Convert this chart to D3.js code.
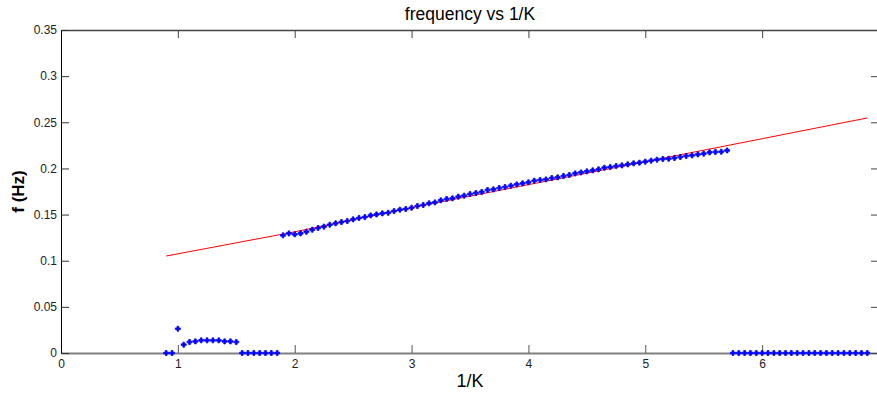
<!DOCTYPE html>
<html>
<head>
<meta charset="utf-8">
<script src="https://cdn.jsdelivr.net/npm/d3@7"></script>
<style>
    body { margin: 0; background: #fff; }
    svg { display: block; font-family: "Liberation Sans", Arial, sans-serif; }
</style>
</head>
<body>
<svg id="chart" width="877" height="396"></svg>
<script>
// measured samples (1/K, f)
const lowX = [0.9, 0.95, 1.0, 1.05, 1.1, 1.15, 1.2, 1.25, 1.3, 1.35, 1.4, 1.45, 1.5,
    1.55, 1.6, 1.65, 1.7, 1.75, 1.8, 1.85];
const lowF = [0, 0, 0.0263, 0.009, 0.0119, 0.0126, 0.0137, 0.0137, 0.0137, 0.0137, 0.0126, 0.0126, 0.0119,
    0, 0, 0, 0, 0, 0, 0];

const midX = [1.9, 1.95, 2.0, 2.05, 2.1, 2.15, 2.2, 2.25, 2.3, 2.35, 2.4, 2.45, 2.5, 2.55, 2.6, 2.65,
    2.7, 2.75, 2.8, 2.85, 2.9, 2.95, 3.0, 3.05, 3.1, 3.15, 3.2, 3.25, 3.3, 3.35, 3.4, 3.45, 3.5, 3.55,
    3.6, 3.65, 3.7, 3.75, 3.8, 3.85, 3.9, 3.95, 4.0, 4.05, 4.1, 4.15, 4.2, 4.25, 4.3, 4.35, 4.4, 4.45,
    4.5, 4.55, 4.6, 4.65, 4.7, 4.75, 4.8, 4.85, 4.9, 4.95, 5.0, 5.05, 5.1, 5.15, 5.2, 5.25, 5.3, 5.35,
    5.4, 5.45, 5.5, 5.55, 5.6, 5.65, 5.7];
const midF = [0.1275, 0.1296, 0.1286, 0.1296, 0.1314, 0.1336, 0.1354, 0.1369, 0.1390, 0.1405, 0.1419,
    0.1430, 0.1448, 0.1463, 0.1473, 0.1491, 0.1502, 0.1513, 0.1520, 0.1538, 0.1553, 0.1560, 0.1574,
    0.1593, 0.1604, 0.1622, 0.1632, 0.1654, 0.1669, 0.1676, 0.1694, 0.1705, 0.1723, 0.1734, 0.1745,
    0.1766, 0.1773, 0.1788, 0.1799, 0.1813, 0.1827, 0.1838, 0.1849, 0.1867, 0.1875, 0.1881, 0.1896,
    0.1903, 0.1918, 0.1929, 0.1946, 0.1957, 0.1968, 0.1979, 0.1990, 0.2008, 0.2015, 0.2026, 0.2033,
    0.2044, 0.2055, 0.2062, 0.2073, 0.2084, 0.2095, 0.2102, 0.2105, 0.2113, 0.2124, 0.2135, 0.2141,
    0.2152, 0.2160, 0.2174, 0.2178, 0.2181, 0.2195];

const highX = [5.75, 5.8, 5.85, 5.9, 5.95, 6.0, 6.05, 6.1, 6.15, 6.2, 6.25, 6.3, 6.35, 6.4, 6.45, 6.5,
    6.55, 6.6, 6.65, 6.7, 6.75, 6.8, 6.85, 6.9];
const highF = [0, 0, 0, 0, 0, 0, 0, 0, 0, 0, 0, 0, 0, 0, 0, 0, 0, 0, 0, 0, 0, 0, 0, 0];

// red fit line
const fitX = [0.9, 2, 3, 4, 5, 6, 6.9];
const fitF = [0.1051, 0.1313, 0.1575, 0.1824, 0.2073, 0.2322, 0.2547];

const xTicks = [0, 1, 2, 3, 4, 5, 6];
const yTicks = [0, 0.05, 0.1, 0.15, 0.2, 0.25, 0.3, 0.35];

const box = {left: 61, right: 879, top: 30, bottom: 353};

const svg = d3.select("#chart");

const x = d3.scaleLinear().domain([0, 7]).range([box.left, box.right]);
const y = d3.scaleLinear().domain([0, 0.35]).range([box.bottom, box.top]);

const tickFont = g => g.selectAll("text")
    .attr("font-size", 12)
    .attr("fill", "#222");

// bottom and top axes
svg.append("g")
    .attr("transform", `translate(0,${box.bottom})`)
    .call(d3.axisBottom(x).tickValues(xTicks).tickFormat(d3.format("d")).tickSizeInner(-8).tickSizeOuter(0).tickPadding(4))
    .call(g => g.select(".domain").attr("stroke", "#808080").attr("stroke-width", 2))
    .call(g => g.selectAll(".tick line").attr("stroke", "#555"))
    .call(tickFont)
    .call(g => g.selectAll("text").attr("dy", "0.9em"));

svg.append("g")
    .attr("transform", `translate(0,${box.top})`)
    .call(d3.axisTop(x).tickValues(xTicks).tickFormat("").tickSizeInner(-8).tickSizeOuter(0))
    .call(g => g.select(".domain").attr("stroke", "#444").attr("stroke-width", 1.5))
    .call(g => g.selectAll(".tick line").attr("stroke", "#444"));

// left and right axes
svg.append("g")
    .attr("transform", `translate(${box.left},0)`)
    .call(d3.axisLeft(y).tickValues(yTicks).tickFormat(d => d === 0 ? "0" : d3.format("")(+d.toFixed(2))).tickSizeInner(-8).tickSizeOuter(0).tickPadding(4))
    .call(g => g.select(".domain").attr("stroke", "#000"))
    .call(g => g.selectAll(".tick line").attr("stroke", "#333"))
    .call(tickFont);

svg.append("g")
    .attr("transform", `translate(${box.right},0)`)
    .call(d3.axisRight(y).tickValues(yTicks).tickFormat("").tickSizeInner(-8).tickSizeOuter(0))
    .call(g => g.select(".domain").attr("stroke", "#444"))
    .call(g => g.selectAll(".tick line").attr("stroke", "#444"));

// fit line
const line = d3.line().x(d => x(d[0])).y(d => y(d[1]));
svg.append("path")
    .datum(d3.zip(fitX, fitF))
    .attr("d", line)
    .attr("fill", "none")
    .attr("stroke", "#ff0000")
    .attr("stroke-width", 1);

// measured points
const points = d3.zip(lowX, lowF).concat(d3.zip(midX, midF), d3.zip(highX, highF));
svg.append("g")
    .selectAll("path")
    .data(points)
    .join("path")
    .attr("transform", d => `translate(${x(d[0])},${y(d[1])})`)
    .attr("d", d3.symbol(d3.symbolCross, 14))
    .attr("fill", "#0000ff")
    .attr("stroke", "#0000ff")
    .attr("stroke-width", 0.8)
    .attr("stroke-linejoin", "round");

svg.append("text")
    .attr("x", (box.left + box.right) / 2)
    .attr("y", 20)
    .attr("text-anchor", "middle")
    .attr("font-size", 17.5)
    .attr("fill", "#000")
    .text("frequency vs 1/K");

svg.append("text")
    .attr("x", (box.left + box.right) / 2)
    .attr("y", 387)
    .attr("text-anchor", "middle")
    .attr("font-size", 18)
    .attr("fill", "#000")
    .text("1/K");

svg.append("text")
    .attr("transform", `translate(24,${(box.top + box.bottom) / 2}) rotate(-90)`)
    .attr("text-anchor", "middle")
    .attr("font-size", 17)
    .attr("font-weight", "bold")
    .attr("fill", "#000")
    .text("f (Hz)");
</script>
</body>
</html>
